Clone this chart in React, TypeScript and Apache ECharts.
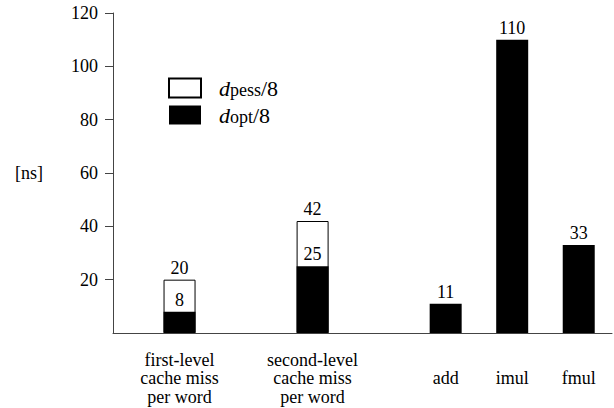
import React, { useEffect, useRef } from "react";
import * as echarts from "echarts";

const categories = [
  "first-level\ncache miss\nper word",
  "second-level\ncache miss\nper word",
  "add",
  "imul",
  "fmul",
];
const positions = [1, 3, 5, 6, 7];
const dPess: (number | null)[] = [20, 42, null, null, null];
const dOpt = [8, 25, 11, 110, 33];
const yTicks = [20, 40, 60, 80, 100, 120];

const FONT = "Liberation Serif";

export default function App() {
  const ref = useRef<HTMLDivElement>(null);
  useEffect(() => {
    if (!ref.current) return;
    const chart = echarts.init(ref.current, undefined, { renderer: "svg" });
    const pessData: number[][] = [];
    positions.forEach((p, i) => {
      const v = dPess[i];
      if (v != null) pessData.push([p, v]);
    });
    const optData = positions.map((p, i) => [p, dOpt[i]]);
    chart.setOption({
      animation: false,
      textStyle: { fontFamily: FONT },
      grid: { left: 113, top: 13, right: 2, bottom: 75 },
      legend: {
        orient: "vertical",
        left: 163,
        top: 72,
        itemWidth: 32,
        itemHeight: 19,
        itemGap: 5,
        icon: "rect",
        selectedMode: false,
        data: ["pess", "opt"],
        formatter: (name: string) =>
          name === "pess" ? "{i|d}{s|pess}{n|/8}" : "{i|d}{s|opt}{n|/8}",
        textStyle: {
          fontFamily: FONT,
          fontSize: 22,
          color: "#000",
          padding: [0, 0, 0, 13],
          rich: {
            i: { fontFamily: FONT, fontSize: 22, lineHeight: 22, fontStyle: "italic", color: "#000" },
            s: {
              fontFamily: FONT,
              fontSize: 18,
              lineHeight: 16,
              verticalAlign: "bottom",
              color: "#000",
            },
            n: { fontFamily: FONT, fontSize: 22, lineHeight: 22, color: "#000" },
          },
        },
      },
      xAxis: {
        type: "value",
        min: 0,
        max: 7.5,
        splitLine: { show: false },
        axisTick: { show: false },
        axisLine: { lineStyle: { color: "#444", width: 1 } },
        axisLabel: {
          customValues: positions,
          formatter: (v: number) => {
            const idx = positions.indexOf(v);
            return idx >= 0 ? categories[idx] : "";
          },
          margin: 45,
          verticalAlign: "middle",
          lineHeight: 18.5,
          color: "#000",
          fontFamily: FONT,
          fontSize: 18,
        },
      },
      yAxis: {
        type: "value",
        min: 0,
        max: 120,
        interval: 20,
        name: "[ns]",
        nameLocation: "middle",
        nameRotate: 0,
        nameGap: 70,
        nameTextStyle: { color: "#000", fontFamily: FONT, fontSize: 18 },
        splitLine: { show: false },
        axisLine: { show: true, lineStyle: { color: "#444", width: 1 } },
        axisTick: {
          show: true,
          length: 8,
          customValues: yTicks,
          lineStyle: { color: "#444" },
        },
        axisLabel: {
          customValues: yTicks,
          margin: 15,
          color: "#000",
          fontFamily: FONT,
          fontSize: 18,
        },
      },
      series: [
        {
          name: "pess",
          type: "bar",
          barWidth: 32,
          barGap: "-100%",
          data: pessData,
          itemStyle: { color: "#fff", borderColor: "#000", borderWidth: 1 },
          label: { show: true, position: "top", distance: 3, color: "#000", fontFamily: FONT, fontSize: 18 },
          z: 1,
        },
        {
          name: "opt",
          type: "bar",
          barWidth: 32,
          barGap: "-100%",
          data: optData,
          itemStyle: { color: "#000" },
          label: { show: true, position: "top", distance: 3, color: "#000", fontFamily: FONT, fontSize: 18 },
          z: 2,
        },
      ],
    });
    return () => chart.dispose();
  }, []);
  return (
    <div
      ref={ref}
      style={{ position: "fixed", left: 0, top: 0, width: 614, height: 408, background: "#fff" }}
    />
  );
}
